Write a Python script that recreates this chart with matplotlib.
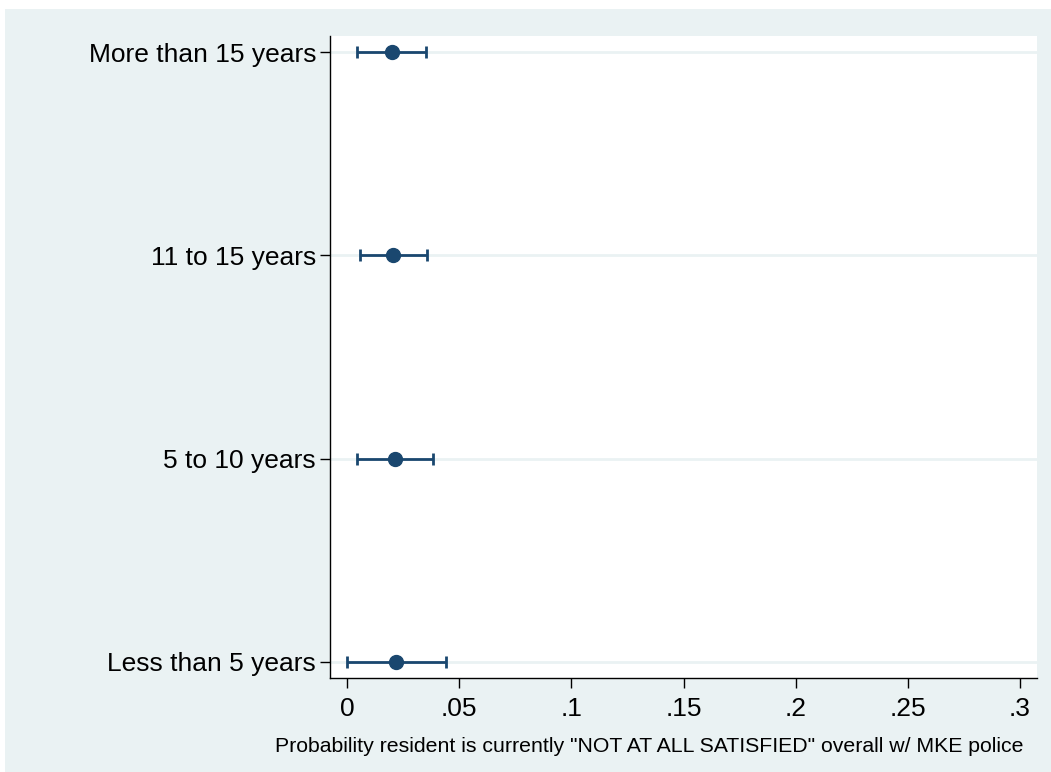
import matplotlib.pyplot as plt
import numpy as np
from matplotlib.patches import Rectangle

plt.rcParams['font.family'] = ['Liberation Sans', 'DejaVu Sans']

# residence length groups, bottom to top
groups = ['Less than 5 years', '5 to 10 years', '11 to 15 years', 'More than 15 years']
prob = [0.0219, 0.0214, 0.0204, 0.0200]
ci_low = [0.0001, 0.0043, 0.0058, 0.0043]
ci_high = [0.0441, 0.0385, 0.0356, 0.0353]

xticks = [0, 0.05, 0.1, 0.15, 0.2, 0.25, 0.3]
xtick_labels = ['0', '.05', '.1', '.15', '.2', '.25', '.3']

navy = '#1a476f'
bluish_gray = '#eaf2f3'

fig = plt.figure(figsize=(10.51, 7.72), dpi=100, facecolor=bluish_gray)
# thin white margin on the left and top edges
fig.patches.append(Rectangle((0, 0), 5 / 1051, 1, transform=fig.transFigure,
                             facecolor='white', edgecolor='none'))
fig.patches.append(Rectangle((0, 1 - 9 / 772), 1, 9 / 772, transform=fig.transFigure,
                             facecolor='white', edgecolor='none'))

ax = fig.add_axes([330 / 1051, 94 / 772, 707 / 1051, 642 / 772])
ax.set_facecolor('white')

y = np.arange(len(groups))
prob = np.array(prob)
err = [prob - np.array(ci_low), np.array(ci_high) - prob]

for yy in y:
    ax.axhline(yy, color=bluish_gray, lw=2, zorder=1)

ax.errorbar(prob, y, xerr=err, fmt='o', color=navy, ecolor=navy, markersize=10,
            elinewidth=2, capsize=4, capthick=2, zorder=3)

ax.set_xlim(-0.0076, 0.3076)
ax.set_ylim(-0.079, 3.079)
ax.set_xticks(xticks, xtick_labels)
ax.set_yticks(y, groups)

for side in ['top', 'right']:
    ax.spines[side].set_visible(False)
for side in ['left', 'bottom']:
    ax.spines[side].set_linewidth(1)
    ax.spines[side].set_color('black')

ax.tick_params(axis='y', direction='out', length=7, width=1, labelsize=19, pad=3)
ax.tick_params(axis='x', direction='out', length=7, width=1, labelsize=19, pad=7)

fig.text(649.5 / 1051, 1 - 746 / 772,
         'Probability resident is currently "NOT AT ALL SATISFIED" overall w/ MKE police',
         fontsize=15.3, ha='center', va='center')

fig.savefig('out.png', dpi=100, facecolor=fig.get_facecolor())
